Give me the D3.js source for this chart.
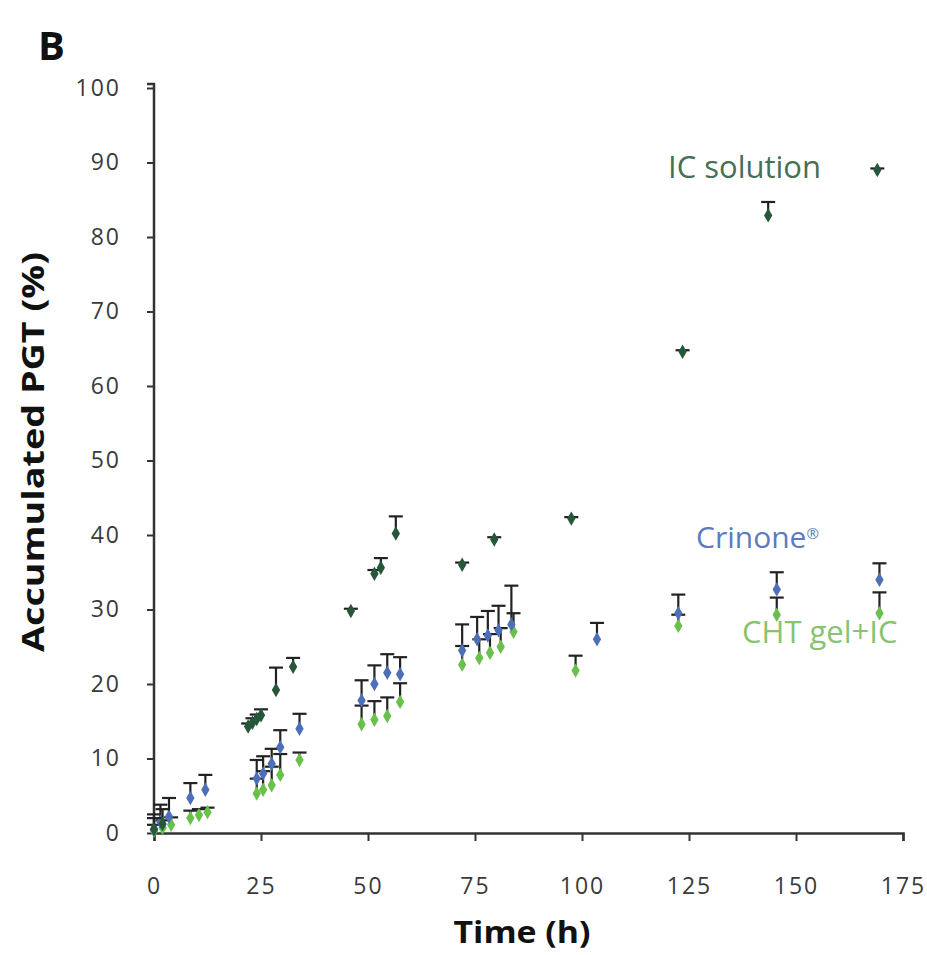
<!DOCTYPE html>
<html>
<head>
<meta charset="utf-8">
<script src="https://cdn.jsdelivr.net/npm/d3@7"></script>
<style>
  body { margin: 0; background: #fff; }
  svg text { font-family: "Open Sans", "Noto Sans", sans-serif; }
</style>
</head>
<body>
<div id="chart"></div>
<script>
// IC solution
const icTime = [0, 2, 22, 23, 24, 25, 28.5, 32.5, 46, 51.5, 53, 56.5, 72, 79.5, 97.5, 123.5, 143.5, 169];
const icMean = [0.5, 1.2, 14.3, 14.8, 15.3, 15.8, 19.2, 22.3, 29.8, 34.8, 35.6, 40.2, 36, 39.4, 42.2, 64.6, 82.9, 89];
const icErr  = [1.5, 2, 0.4, 0.6, 0.6, 0.8, 3, 1.2, 0.3, 0.5, 1.3, 2.3, 0.3, 0.3, 0.2, 0.2, 1.8, 0.2];

// Crinone
const crTime = [0, 1.5, 3.5, 8.5, 12, 24, 25.5, 27.5, 29.5, 34, 48.5, 51.5, 54.5, 57.5, 72, 75.5, 78, 80.5, 83.5, 103.5, 122.5, 145.5, 169.5];
const crMean = [0.5, 1.5, 2.2, 4.7, 5.8, 7.3, 8, 9.3, 11.5, 14, 17.8, 20, 21.5, 21.3, 24.5, 26, 26.5, 27.2, 28, 26, 29.5, 32.7, 34];
const crErr  = [2, 2.3, 2.5, 2, 2, 2.5, 2.3, 2, 2.3, 2, 2.7, 2.5, 2.5, 2.3, 3.5, 3, 3.3, 3.3, 5.2, 2.2, 2.5, 2.3, 2.2];

// CHT gel+IC
const chtTime = [0, 2, 4, 8.5, 10.5, 12.5, 24, 25.5, 27.5, 29.5, 34, 48.5, 51.5, 54.5, 57.5, 72, 76, 78.5, 81, 84, 98.5, 122.5, 145.5, 169.5];
const chtMean = [0.3, 0.7, 1.1, 2, 2.4, 2.8, 5.3, 5.8, 6.4, 7.8, 9.8, 14.6, 15.2, 15.7, 17.6, 22.6, 23.5, 24.2, 25, 27, 21.8, 27.8, 29.3, 29.5];
const chtErr  = [0.8, 1, 1, 1, 0.8, 0.6, 2, 2.5, 2.5, 2.8, 1, 2.5, 2.5, 2.5, 2.5, 2.5, 2.5, 2.5, 2.5, 2.5, 2, 1.5, 2.3, 2.8];

const xTicks = [0, 25, 50, 75, 100, 125, 150, 175];
const yTicks = [0, 10, 20, 30, 40, 50, 60, 70, 80, 90, 100];

const series = [
  { name: "CHT gel+IC", sup: "", size: 31, color: "#69c04a", label: "#86c46e", t: chtTime, v: chtMean, e: chtErr, lx: 742, ly: 632 },
  { name: "Crinone", sup: "®", size: 30, color: "#4d6fb8", label: "#5b7ac2", t: crTime, v: crMean, e: crErr, lx: 696, ly: 537 },
  { name: "IC solution", sup: "", size: 31, color: "#27573a", label: "#466f55", t: icTime, v: icMean, e: icErr, lx: 668, ly: 167 }
];

const W = 927, H = 955;
const margin = { top: 88, right: 24, bottom: 122, left: 154 };
const width = W - margin.left - margin.right;
const height = H - margin.top - margin.bottom;

const svg = d3.select("#chart").append("svg")
  .attr("width", W).attr("height", H);

const g = svg.append("g")
  .attr("transform", `translate(${margin.left},${margin.top})`);

const x = d3.scaleLinear().domain([0, 175]).range([0, width]);
const y = d3.scaleLinear().domain([0, 100]).range([height, 0]);

// axes
const yAxis = g.append("g").call(d3.axisLeft(y).tickValues(yTicks).tickSize(7).tickPadding(26));
const xAxis = g.append("g").attr("transform", `translate(0,${height})`)
  .call(d3.axisBottom(x).tickValues(xTicks).tickSize(8).tickPadding(37));
yAxis.select(".domain").attr("d", `M-7,-4H0V${height}`);
[yAxis, xAxis].forEach(a => {
  a.select(".domain").attr("stroke", "#333").attr("stroke-width", 2.5);
  a.selectAll(".tick line").attr("stroke", "#333").attr("stroke-width", 2);
  a.selectAll("text").attr("fill", "#3a3a3a").style("font-size", "23px").style("letter-spacing", "2px");
});

// error bars + markers
series.forEach(s => {
  const pts = s.t.map((t, i) => ({ t, v: s.v[i], e: s.e[i] }));
  const eb = g.append("g").attr("stroke", "#222").attr("stroke-width", 2.2);
  eb.selectAll("line.v").data(pts).enter().append("line")
    .attr("x1", d => x(d.t)).attr("x2", d => x(d.t))
    .attr("y1", d => y(d.v)).attr("y2", d => y(d.v + d.e));
  eb.selectAll("line.c").data(pts).enter().append("line")
    .attr("x1", d => x(d.t) - 7).attr("x2", d => x(d.t) + 7)
    .attr("y1", d => y(d.v + d.e)).attr("y2", d => y(d.v + d.e));
  g.append("g").selectAll("path").data(pts).enter().append("path")
    .attr("d", d3.symbol().type(d3.symbolDiamond).size(60))
    .attr("transform", d => `translate(${x(d.t)},${y(d.v)})`)
    .attr("fill", s.color);
  const lab = svg.append("text").attr("x", s.lx).attr("y", s.ly).attr("dy", "0.35em")
    .attr("fill", s.label).style("font-size", s.size + "px").text(s.name);
  if (s.sup) lab.append("tspan").attr("dy", "-0.6em").style("font-size", "15px").text(s.sup);
});

// titles
svg.append("text").attr("x", 38).attr("y", 60).style("font-size", "40px")
  .style("font-weight", "bold").attr("fill", "#111").text("B");
svg.append("text").attr("x", 522).attr("y", 943).attr("text-anchor", "middle")
  .style("font-size", "30px").style("font-weight", "bold").attr("fill", "#111")
  .attr("textLength", 137).attr("lengthAdjust", "spacingAndGlyphs").text("Time (h)");
svg.append("text").attr("transform", "translate(44,452) rotate(-90)").attr("text-anchor", "middle")
  .style("font-size", "30px").style("font-weight", "bold").attr("fill", "#111")
  .attr("textLength", 400).attr("lengthAdjust", "spacingAndGlyphs").text("Accumulated PGT (%)");
</script>
</body>
</html>
